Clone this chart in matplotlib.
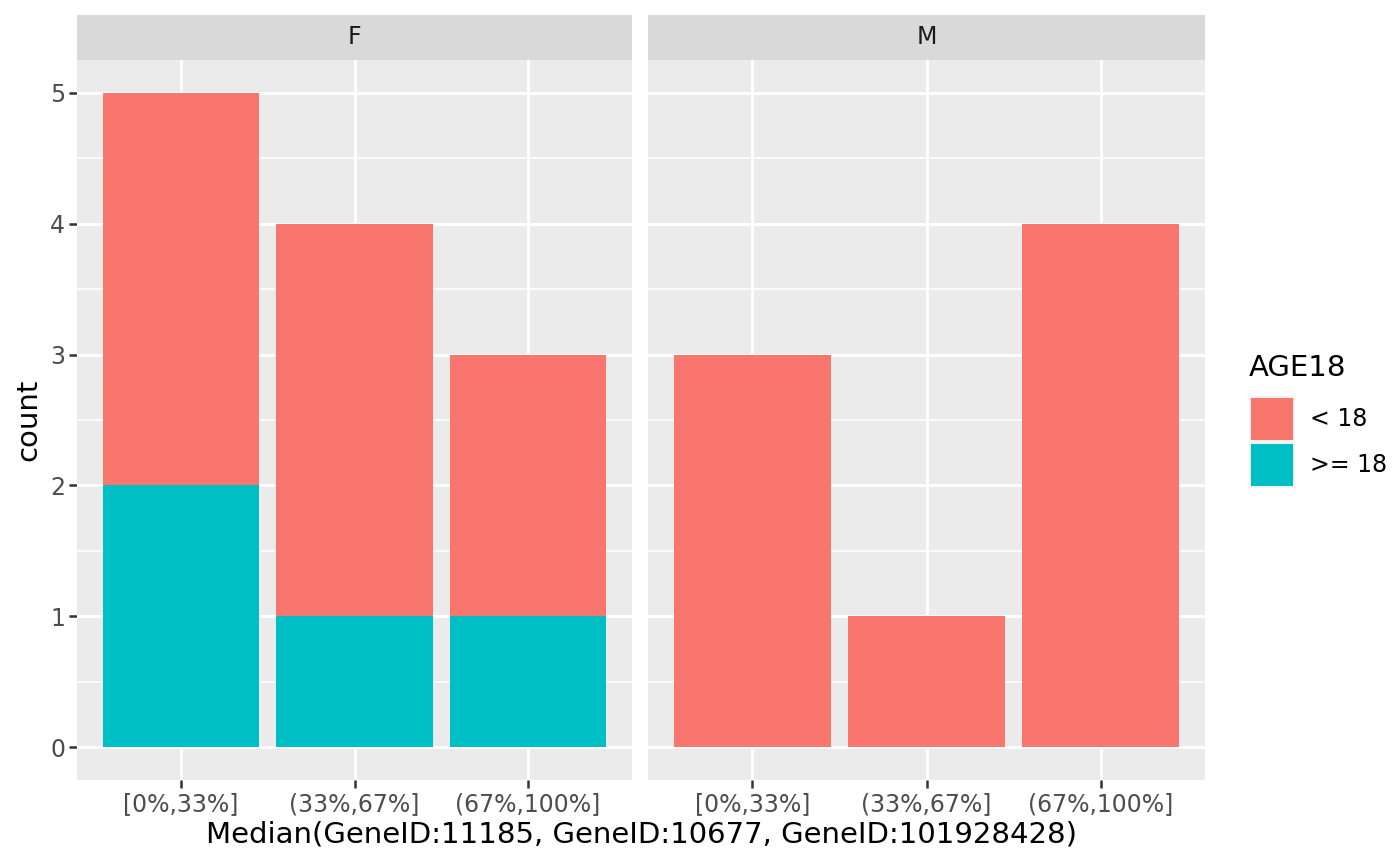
import matplotlib
matplotlib.use("Agg")
import matplotlib.pyplot as plt
from matplotlib.patches import Rectangle
import numpy as np

plt.rcParams['font.family'] = ['DejaVu Sans']

categories = ["[0%,33%]", "(33%,67%]", "(67%,100%]"]
panels = ["F", "M"]
under18 = {"F": [3, 3, 2], "M": [3, 1, 4]}
over18 = {"F": [2, 1, 1], "M": [0, 0, 0]}
yticks = [0, 1, 2, 3, 4, 5]
legend_labels = ["< 18", ">= 18"]
col_under = "#F8766D"
col_over = "#00BFC4"

W, H = 1400, 866
fig = plt.figure(figsize=(14, 8.66), dpi=100)

panel_px = {"F": (77, 632), "M": (648, 1205)}
top_px, bot_px = 60, 780
strip_top = 15
small = 17
big = 21

for p in panels:
    x0, x1 = panel_px[p]
    ax = fig.add_axes([x0 / W, (H - bot_px) / H, (x1 - x0) / W, (bot_px - top_px) / H])
    ax.set_facecolor("#EBEBEB")
    x = np.arange(1, len(categories) + 1)
    ax.bar(x, over18[p], width=0.9, color=col_over, zorder=3)
    ax.bar(x, under18[p], bottom=over18[p], width=0.9, color=col_under, zorder=3)
    ax.set_xlim(0.4, 3.6)
    ax.set_ylim(-0.25, 5.25)
    for y in np.arange(0.5, 5.5, 1.0):
        ax.axhline(y, color="white", lw=1.08, zorder=1)
    for y in yticks:
        ax.axhline(y, color="white", lw=2.16, zorder=2)
    for xi in x:
        ax.axvline(xi, color="white", lw=2.16, zorder=2)
    for s in ax.spines.values():
        s.set_visible(False)
    ax.set_xticks(x)
    ax.set_xticklabels(categories)
    ax.set_yticks(yticks)
    ax.tick_params(axis="both", length=5.5, width=1.8, color="#333333",
                   labelcolor="#4D4D4D", labelsize=small, pad=3)
    if p == "M":
        ax.tick_params(axis="y", left=False, labelleft=False)
    # strip
    sax = fig.add_axes([x0 / W, (H - top_px) / H, (x1 - x0) / W, (top_px - strip_top) / H])
    sax.set_facecolor("#D9D9D9")
    sax.set_xticks([]); sax.set_yticks([])
    for s in sax.spines.values():
        s.set_visible(False)
    sax.text(0.5, 0.5, p, ha="center", va="center", fontsize=small, color="#1A1A1A",
             transform=sax.transAxes)

fig.text(641 / W, 1 - 835 / H, "Median(GeneID:11185, GeneID:10677, GeneID:101928428)",
         ha="center", va="center", fontsize=big, color="black")
fig.text(28 / W, 1 - 420 / H, "count", ha="center", va="center", rotation=90,
         fontsize=big, color="black")

# legend
fig.text(1249 / W, 1 - 368 / H, "AGE18", ha="left", va="center", fontsize=big)
keys = [(col_under, 396), (col_over, 442)]
for (c, ytop), lab in zip(keys, legend_labels):
    fig.add_artist(Rectangle((1249 / W, 1 - (ytop + 46) / H), 46 / W, 46 / H,
                             transform=fig.transFigure, facecolor="#F2F2F2", edgecolor="none"))
    fig.add_artist(Rectangle((1251 / W, 1 - (ytop + 44) / H), 42 / W, 42 / H,
                             transform=fig.transFigure, facecolor=c, edgecolor="none"))
    fig.text(1310 / W, 1 - (ytop + 23) / H, lab, ha="left", va="center", fontsize=small)

fig.savefig("out.png", dpi=100)
